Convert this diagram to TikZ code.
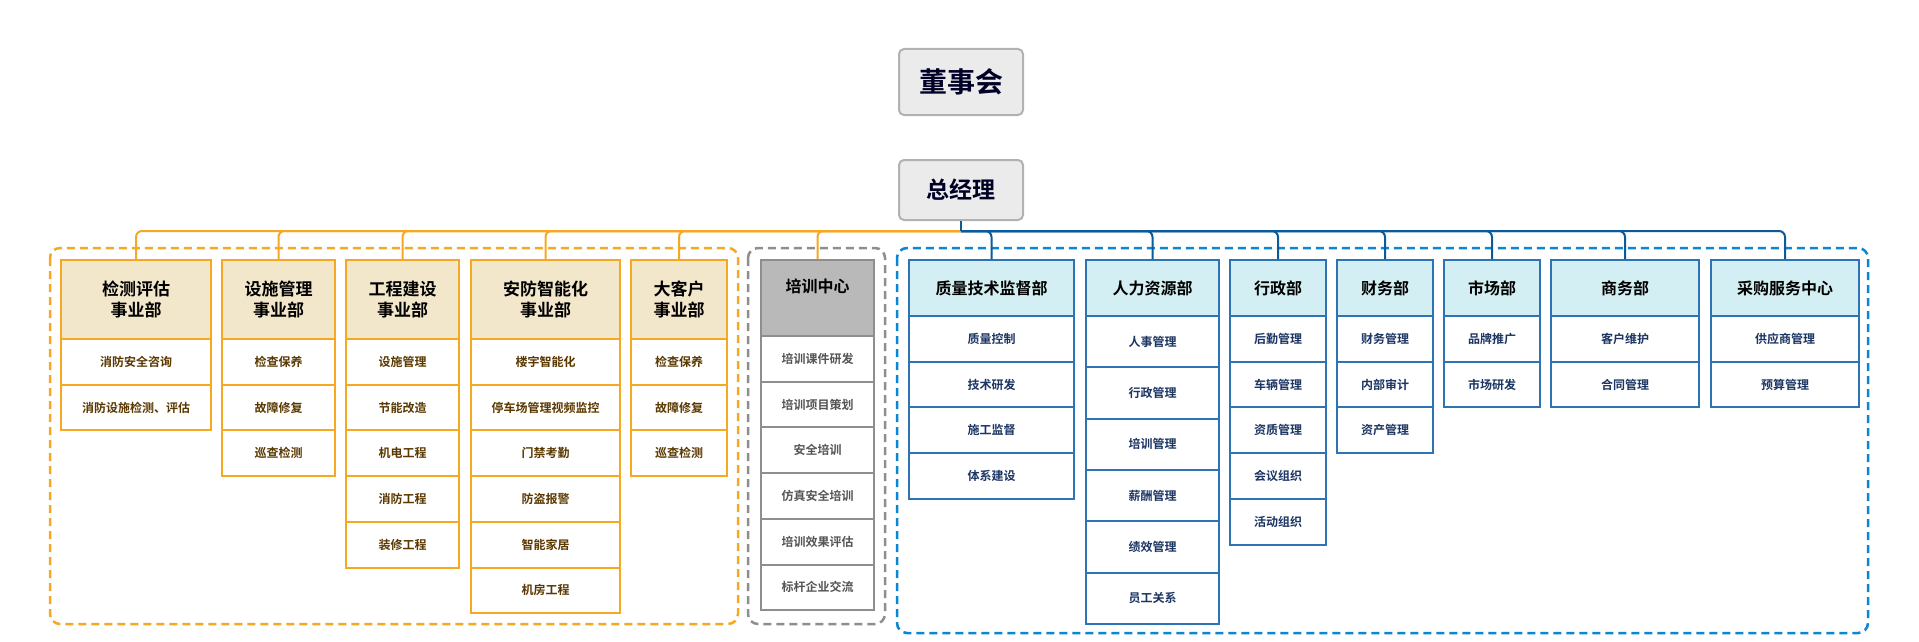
\documentclass[tikz,border=0pt]{standalone}
\usepackage{fontspec}
\setmainfont{Noto Sans CJK SC}[BoldFont={Noto Sans CJK SC Bold}]
\definecolor{oline}{HTML}{F7A823}
\definecolor{ofill}{HTML}{F2E7CB}
\definecolor{otext}{HTML}{5A3800}
\definecolor{bline}{HTML}{2E74B5}
\definecolor{bbus}{HTML}{0B5A9C}
\definecolor{bdash}{HTML}{0A86D2}
\definecolor{bfill}{HTML}{D3EFF3}
\definecolor{btext}{HTML}{1C3563}
\definecolor{gline}{HTML}{8E8E8E}
\definecolor{gfill}{HTML}{B9B9B9}
\definecolor{gtext}{HTML}{555555}
\tikzset{
 base/.style={draw, line width=2pt, inner sep=0pt, font=\bfseries, align=center, anchor=north west},
 ohead/.style={base, draw=oline, fill=ofill, font=\bfseries\fontsize{17}{21}\selectfont, text=black},
 oitem/.style={base, draw=oline, fill=white, font=\bfseries\fontsize{12}{14}\selectfont, text=otext},
 bhead/.style={base, draw=bline, fill=bfill, font=\bfseries\fontsize{16}{20}\selectfont, text=black},
 bitem/.style={base, draw=bline, fill=white, font=\bfseries\fontsize{12}{14}\selectfont, text=btext},
 ghead/.style={base, draw=gline, fill=gfill, font=\bfseries\fontsize{16}{20}\selectfont, text=black},
 gitem/.style={base, draw=gline, fill=white, font=\bfseries\fontsize{12}{14}\selectfont, text=gtext},
 topbox/.style={draw=black!30, line width=2pt, fill=black!8, rounded corners=5pt, font=\bfseries, text=black!85!blue, minimum width=124pt},
 obus/.style={draw=oline, line width=2pt, rounded corners=6pt},
 bbusl/.style={draw=bbus, line width=2pt, rounded corners=6pt},
 dbox/.style={line width=2.5pt, dash pattern=on 8pt off 5pt, rounded corners=10pt},
}
\newcommand\mkcol[8]{%
 \node[#5head, minimum width={(#3-#2)*1pt}, minimum height={#4*1pt}] (#1) at (#2,259) {#6};
 \foreach \t [count=\i] in {#8} {
  \node[#5item, minimum width={(#3-#2)*1pt}, minimum height={#7*1pt}] (#1r\i) at (#2,{259+#4+(\i-1)*#7}) {\t};
 }
}
\begin{document}
\begin{tikzpicture}[x=1pt,y=-1pt]
\useasboundingbox (0,0) rectangle (1919,642);
\fill[white] (0,0) rectangle (1919,642);
% dashed groups
\draw[dbox, draw=oline] (50,248) rectangle (738,624);
\draw[dbox, draw=gline] (748,248) rectangle (885,624);
\draw[dbox, draw=bdash] (897,248) rectangle (1868,633);
% top
\node[topbox, minimum height=66pt, font=\bfseries\fontsize{28}{32}\selectfont] (board) at (961,82) {董事会};
\node[topbox, minimum height=60pt, font=\bfseries\fontsize{23}{27}\selectfont] (gm) at (961,190) {总经理};
\coordinate (bus) at (961,231);
% columns
\mkcol{c1}{60}{210}{79}{o}{检测评估\\事业部}{45.7}{消防安全咨询,消防设施检测、评估}
\mkcol{c2}{221}{334}{79}{o}{设施管理\\事业部}{45.7}{检查保养,故障修复,巡查检测}
\mkcol{c3}{345}{458}{79}{o}{工程建设\\事业部}{45.7}{设施管理,节能改造,机电工程,消防工程,装修工程}
\mkcol{c4}{470}{619}{79}{o}{安防智能化\\事业部}{45.7}{楼宇智能化,停车场管理视频监控,门禁考勤,防盗报警,智能家居,机房工程}
\mkcol{c5}{630}{726}{79}{o}{大客户\\事业部}{45.7}{检查保养,故障修复,巡查检测}
\node[ghead, minimum width=113pt, minimum height=76pt, text depth=0pt] (t) at (760,259) {\raisebox{25pt}{培训中心}};
\foreach \t [count=\i] in {培训课件研发,培训项目策划,安全培训,仿真安全培训,培训效果评估,标杆企业交流}{
 \node[gitem, minimum width=113pt, minimum height=45.7pt] (tr\i) at (760,{335+(\i-1)*45.7}) {\t};}
\mkcol{b1}{908}{1073}{56}{b}{质量技术监督部}{45.7}{质量控制,技术研发,施工监督,体系建设}
\mkcol{b2}{1085}{1218}{56}{b}{人力资源部}{51.3}{人事管理,行政管理,培训管理,薪酬管理,绩效管理,员工关系}
\mkcol{b3}{1229}{1325}{56}{b}{行政部}{45.7}{后勤管理,车辆管理,资质管理,会议组织,活动组织}
\mkcol{b4}{1336}{1432}{56}{b}{财务部}{45.7}{财务管理,内部审计,资产管理}
\mkcol{b5}{1443}{1539}{56}{b}{市场部}{45.7}{品牌推广,市场研发}
\mkcol{b6}{1550}{1698}{56}{b}{商务部}{45.7}{客户维护,合同管理}
\mkcol{b7}{1710}{1858}{56}{b}{采购服务中心}{45.7}{供应商管理,预算管理}
% connectors
\foreach \n in {c1,c2,c3,c4,c5,t} {\draw[obus] (\n.north) |- (bus);}
\foreach \n in {b1,b2,b3,b4,b5,b6,b7} {\draw[bbusl] (\n.north) |- (bus);}
\draw[draw=bbus, line width=2pt] (gm.south) -- (bus);
\end{tikzpicture}
\end{document}
